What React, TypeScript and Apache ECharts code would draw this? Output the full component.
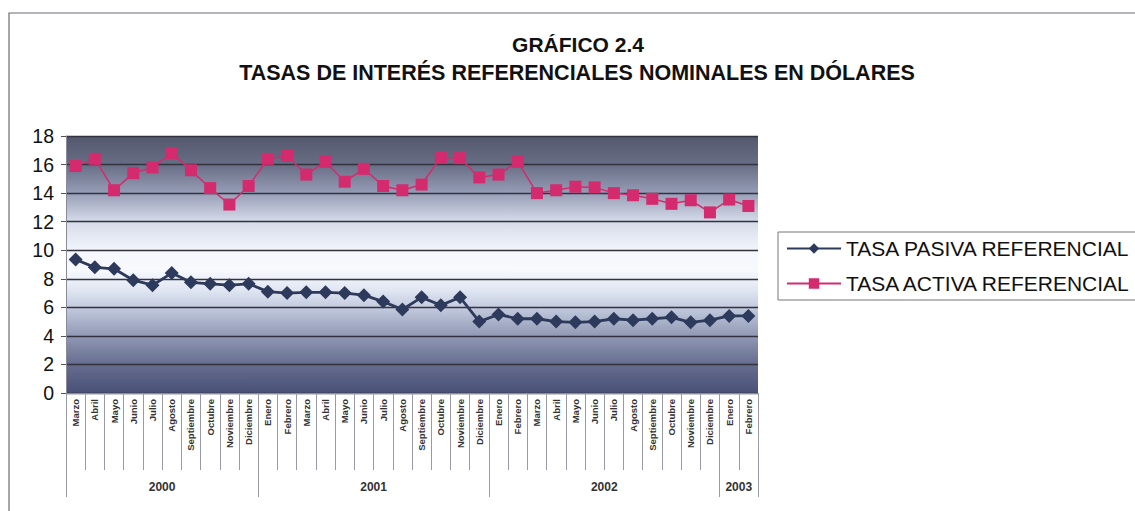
import React, { useEffect, useRef } from "react";
import * as echarts from "echarts";

const months = [
  "Marzo", "Abril", "Mayo", "Junio", "Julio", "Agosto", "Septiembre", "Octubre", "Noviembre", "Diciembre",
  "Enero", "Febrero", "Marzo", "Abril", "Mayo", "Junio", "Julio", "Agosto", "Septiembre", "Octubre", "Noviembre", "Diciembre",
  "Enero", "Febrero", "Marzo", "Abril", "Mayo", "Junio", "Julio", "Agosto", "Septiembre", "Octubre", "Noviembre", "Diciembre",
  "Enero", "Febrero",
];
const years = ["2000", "2001", "2002", "2003"];
const monthsPerYear = [10, 12, 12, 2];

const tasaPasiva = [
  9.35, 8.8, 8.7, 7.9, 7.55, 8.4, 7.75, 7.65, 7.55, 7.65,
  7.1, 7.0, 7.05, 7.05, 7.0, 6.85, 6.4, 5.85, 6.7, 6.15, 6.7, 5.0,
  5.5, 5.2, 5.2, 5.0, 4.95, 5.0, 5.2, 5.1, 5.2, 5.3, 4.95, 5.1,
  5.4, 5.4,
];
const tasaActiva = [
  15.9, 16.4, 14.2, 15.4, 15.8, 16.8, 15.6, 14.35, 13.2, 14.5,
  16.4, 16.6, 15.3, 16.2, 14.8, 15.7, 14.5, 14.2, 14.6, 16.5, 16.45, 15.1,
  15.3, 16.2, 14.0, 14.2, 14.45, 14.4, 14.0, 13.85, 13.6, 13.25, 13.5, 12.65,
  13.55, 13.1,
];
const yTicks = [0, 2, 4, 6, 8, 10, 12, 14, 16, 18];

const seriesNames = ["TASA PASIVA REFERENCIAL", "TASA ACTIVA REFERENCIAL"];
const titleLines = ["GRÁFICO 2.4", "TASAS DE INTERÉS REFERENCIALES NOMINALES EN DÓLARES"];

export default function App() {
  const ref = useRef<HTMLDivElement>(null);
  useEffect(() => {
    if (!ref.current) return;
    const chart = echarts.init(ref.current, undefined, { renderer: "svg" });

    const boundaries: number[] = [0];
    const centers: number[] = [];
    let acc = 0;
    monthsPerYear.forEach((n) => {
      centers.push(acc + n / 2);
      acc += n;
      boundaries.push(acc);
    });

    const font = "Arial, 'Liberation Sans', sans-serif";

    chart.setOption({
      animation: false,
      backgroundColor: "#ffffff",
      graphic: [
        {
          type: "rect",
          shape: { x: 9, y: 13, width: 1300, height: 700 },
          style: { fill: "none", stroke: "#6a6a78", lineWidth: 1.2 },
          silent: true,
          z: -10,
        },
        {
          type: "text",
          x: 578,
          y: 44,
          style: {
            text: titleLines[0],
            font: `bold 21px ${font}`,
            fill: "#111",
            align: "center",
            verticalAlign: "middle",
          },
        },
        {
          type: "text",
          x: 577,
          y: 73,
          style: {
            text: titleLines[1],
            font: `bold 21.5px ${font}`,
            fill: "#111",
            align: "center",
            verticalAlign: "middle",
          },
        },
      ],
      legend: {
        left: 778,
        top: 232,
        orient: "vertical",
        data: seriesNames,
        itemWidth: 54,
        itemHeight: 13,
        itemGap: 14,
        padding: [6, 8, 6, 8],
        borderColor: "#777",
        borderWidth: 1,
        textStyle: { fontFamily: font, fontSize: 21, color: "#111" },
      },
      grid: {
        left: 66,
        right: 377,
        top: 136,
        bottom: 118,
        show: true,
        borderWidth: 0,
        backgroundColor: new echarts.graphic.LinearGradient(0, 0, 0, 1, [
          { offset: 0, color: "#53586d" },
          { offset: 0.11, color: "#676d84" },
          { offset: 0.22, color: "#959cb5" },
          { offset: 0.33, color: "#d4dae8" },
          { offset: 0.45, color: "#f4f7fc" },
          { offset: 0.52, color: "#f7f9fd" },
          { offset: 0.6, color: "#e0e6f2" },
          { offset: 0.68, color: "#bdc5da" },
          { offset: 0.78, color: "#9098b4" },
          { offset: 0.89, color: "#656c8e" },
          { offset: 1, color: "#4a5178" },
        ]),
      },
      xAxis: [
        {
          type: "category",
          data: months,
          boundaryGap: true,
          axisLine: { show: true, lineStyle: { color: "#8a8a98", width: 1 } },
          axisTick: { show: true, interval: 0, length: 77, lineStyle: { color: "#9a9aa6" } },
          axisLabel: {
            interval: 0,
            rotate: 90,
            margin: 6,
            fontFamily: font,
            fontSize: 9.5,
            fontWeight: "bold",
            color: "#333",
          },
          splitLine: { show: false },
        },
        {
          type: "value",
          min: 0,
          max: months.length,
          position: "bottom",
          axisLine: { show: false },
          splitLine: { show: false },
          axisTick: {
            show: true,
            customValues: boundaries,
            length: 104,
            lineStyle: { color: "#9a9aa6" },
          },
          axisLabel: {
            show: true,
            customValues: centers,
            margin: 88,
            fontFamily: font,
            fontSize: 12,
            fontWeight: "bold",
            color: "#333",
            formatter: (v: number) => {
              const i = centers.findIndex((c) => Math.abs(c - v) < 1e-6);
              return i >= 0 ? years[i] : "";
            },
          },
        },
      ],
      yAxis: {
        type: "value",
        min: yTicks[0],
        max: yTicks[yTicks.length - 1],
        interval: yTicks[1] - yTicks[0],
        axisLine: { show: true, lineStyle: { color: "#8a8a98" } },
        axisTick: { show: true, length: 5, lineStyle: { color: "#555" } },
        axisLabel: { fontFamily: font, fontSize: 19.5, color: "#111", margin: 12 },
        splitLine: { show: true, lineStyle: { color: "#33333f", width: 1.3 } },
      },
      series: [
        {
          name: seriesNames[0],
          type: "line",
          data: tasaPasiva,
          symbol: "diamond",
          symbolSize: 14,
          itemStyle: { color: "#2d3a5c" },
          lineStyle: { color: "#2d3a5c", width: 2.8 },
          z: 3,
        },
        {
          name: seriesNames[1],
          type: "line",
          data: tasaActiva,
          symbol: "rect",
          symbolSize: 12,
          itemStyle: { color: "#d42a6e" },
          lineStyle: { color: "#d42a6e", width: 1.5 },
          z: 3,
        },
      ],
    });
    return () => chart.dispose();
  }, []);
  return (
    <div
      ref={ref}
      style={{ position: "fixed", left: 0, top: 0, width: 1135, height: 511 }}
    />
  );
}
